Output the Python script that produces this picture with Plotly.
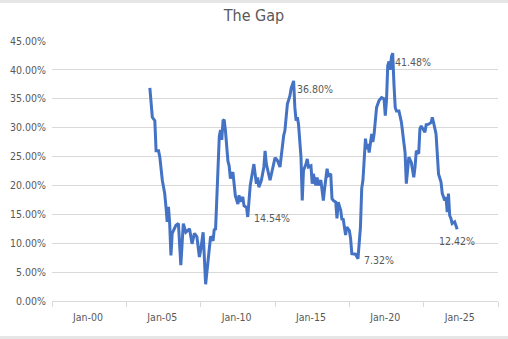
import plotly.graph_objects as go

# Monthly readings of the gap (percent)
months = [
    "2004-03", "2004-05", "2004-07", "2004-08", "2004-10", "2004-11", "2005-01", "2005-03",
    "2005-04", "2005-05", "2005-06", "2005-07", "2005-08", "2005-09", "2005-12", "2006-02",
    "2006-04", "2006-06", "2006-08", "2006-11", "2007-01", "2007-03", "2007-05", "2007-07",
    "2007-08", "2007-10", "2007-12", "2008-02", "2008-04", "2008-06", "2008-07", "2008-08",
    "2008-10", "2008-11", "2008-12", "2009-01", "2009-02", "2009-03", "2009-04", "2009-06",
    "2009-07", "2009-08", "2009-10", "2009-11", "2009-12", "2010-02", "2010-03", "2010-04",
    "2010-06", "2010-07", "2010-09", "2010-10", "2010-11", "2010-12", "2011-03", "2011-05",
    "2011-06", "2011-07", "2011-09", "2011-11", "2011-12", "2012-01", "2012-04", "2012-06",
    "2012-08", "2012-10", "2012-12", "2013-03", "2013-04", "2013-06", "2013-08", "2013-09",
    "2013-11", "2013-12", "2014-01", "2014-02", "2014-03", "2014-05", "2014-06", "2014-07",
    "2014-09", "2014-10", "2014-11", "2015-01", "2015-02", "2015-03", "2015-05", "2015-06",
    "2015-07", "2015-09", "2015-11", "2015-12", "2016-02", "2016-03", "2016-05", "2016-06",
    "2016-07", "2016-09", "2016-10", "2016-11", "2017-01", "2017-02", "2017-03", "2017-05",
    "2017-06", "2017-08", "2017-09", "2017-10", "2018-01", "2018-03", "2018-04", "2018-05",
    "2018-06", "2018-07", "2018-09", "2018-10", "2018-11", "2018-12", "2019-02", "2019-03",
    "2019-04", "2019-06", "2019-08", "2019-10", "2019-12", "2020-01", "2020-02", "2020-03",
    "2020-04", "2020-05", "2020-06", "2020-07", "2020-08", "2020-09", "2020-10", "2020-12",
    "2021-02", "2021-03", "2021-04", "2021-05", "2021-06", "2021-08", "2021-10", "2021-12",
    "2022-01", "2022-02", "2022-04", "2022-05", "2022-06", "2022-08", "2022-09", "2022-10",
    "2022-12", "2023-02", "2023-03", "2023-04", "2023-06", "2023-07", "2023-08", "2023-10",
    "2023-11", "2024-01", "2024-02", "2024-03", "2024-04", "2024-05", "2024-06", "2024-07",
    "2024-09", "2024-11",
]
gap_pct = [
    36.9, 31.8, 31.2, 26.0, 26.0, 24.9, 20.9, 18.6,
    16.3, 13.7, 16.3, 13.4, 7.9, 11.7, 13.1, 13.4,
    6.2, 13.4, 11.9, 12.5, 9.9, 11.7, 11.1, 7.6,
    8.8, 11.9, 2.9, 6.8, 11.2, 10.4, 12.5, 12.3,
    22.4, 28.5, 29.6, 27.9, 31.2, 31.4, 29.5, 24.2,
    23.4, 21.2, 22.3, 20.6, 18.2, 16.8, 18.3, 17.2,
    18.0, 16.5, 16.2, 14.54, 18.5, 20.0, 23.7, 20.3,
    21.4, 19.7, 20.9, 23.2, 26.0, 23.7, 20.9, 22.6,
    24.8, 24.3, 23.2, 28.6, 29.5, 34.1, 35.5, 36.80,
    38.1, 33.5, 31.2, 31.8, 30.6, 24.9, 17.4, 22.6,
    23.7, 24.6, 23.2, 23.4, 20.3, 22.0, 20.0, 21.4,
    20.0, 20.9, 17.4, 19.4, 22.9, 21.7, 22.0, 17.7,
    17.4, 17.1, 14.3, 17.1, 15.7, 14.0, 14.3, 11.4,
    12.8, 12.2, 10.8, 8.2, 8.1, 7.32, 10.5, 12.8,
    19.5, 20.9, 28.1, 26.3, 27.2, 25.7, 28.9, 27.5,
    28.9, 33.5, 34.7, 35.2, 35.0, 32.1, 34.9, 40.7,
    41.48, 40.0, 42.3, 42.9, 37.5, 33.5, 32.9, 32.9,
    30.9, 28.9, 27.5, 25.7, 20.3, 24.9, 24.0, 21.4,
    23.2, 26.0, 25.5, 29.8, 30.3, 29.5, 29.2, 30.5,
    30.6, 30.9, 31.8, 30.9, 28.9, 25.5, 22.0, 20.6,
    18.6, 17.4, 18.0, 15.4, 18.6, 14.8, 14.3, 13.4,
    13.7, 12.42,
]

# Points carrying a value label, and where the label sits
label_months = ["2010-10", "2013-09", "2018-03", "2020-04", "2024-11"]
label_sides = ["right", "right", "right", "right", "below"]

y_ticks = [0, 5, 10, 15, 20, 25, 30, 35, 40, 45]
y_tick_text = ["%.2f%%" % v for v in y_ticks]
x_tick_dates = ["2000-01-01", "2005-01-01", "2010-01-01", "2015-01-01", "2020-01-01", "2025-01-01"]
x_tick_text = ["Jan-00", "Jan-05", "Jan-10", "Jan-15", "Jan-20", "Jan-25"]

FONT = "Liberation Sans Narrow, DejaVu Sans Condensed, Open Sans, sans-serif"
GREY_TXT = "#595959"
GRID = "#D9D9D9"
FRAME = "#E6E6E6"

fig = go.Figure()
fig.add_trace(go.Scatter(
    x=[m + "-01" for m in months], y=gap_pct, mode="lines",
    line=dict(color="#4472C4", width=3), showlegend=False,
))

lookup = dict(zip(months, gap_pct))
for m, side in zip(label_months, label_sides):
    v = lookup[m]
    if side == "right":
        pos = dict(xanchor="left", yanchor="middle", xshift=4, yshift=-1)
    else:
        pos = dict(xanchor="center", yanchor="top", xshift=0, yshift=-4)
    fig.add_annotation(
        x=m + "-01", y=v, text="%.2f%%" % v, showarrow=False,
        font=dict(family=FONT, size=10.5, color=GREY_TXT), **pos,
    )

fig.update_layout(
    width=508, height=339,
    margin=dict(l=47, r=10, t=41, b=38),
    paper_bgcolor="white", plot_bgcolor="white",
    title=dict(text="The Gap", x=0.5, xanchor="center", y=1 - 15 / 339, yanchor="middle",
               font=dict(family=FONT, size=16, color=GREY_TXT)),
    xaxis=dict(
        type="date", range=["1997-08-01", "2027-08-01"],
        tickmode="array", tickvals=x_tick_dates, ticktext=x_tick_text,
        ticks="", showgrid=False, zeroline=False, ticklabelstandoff=6,
        showline=True, linecolor=GRID, linewidth=1,
        tickfont=dict(family=FONT, size=10.5, color=GREY_TXT),
        minor=dict(ticks="outside", ticklen=5, tickcolor=GRID, tickwidth=1,
                   tick0="1997-08-01", dtick="M60", showgrid=False),
    ),
    yaxis=dict(
        range=[0, 45], tickmode="array", tickvals=y_ticks, ticktext=y_tick_text,
        showgrid=True, gridcolor=GRID, gridwidth=1, zeroline=False,
        ticks="", ticklabelstandoff=5,
        tickfont=dict(family=FONT, size=10.5, color=GREY_TXT),
    ),
    shapes=[
        # faint chart-area border along the top and bottom edges
        dict(type="line", xref="paper", yref="paper", x0=-0.2, x1=1.1,
             y0=1 + 39.5 / 260, y1=1 + 39.5 / 260, line=dict(color=FRAME, width=3)),
        dict(type="line", xref="paper", yref="paper", x0=-0.2, x1=1.1,
             y0=-36.5 / 260, y1=-36.5 / 260, line=dict(color=FRAME, width=3)),
    ],
)

fig.write_html("out.html")
